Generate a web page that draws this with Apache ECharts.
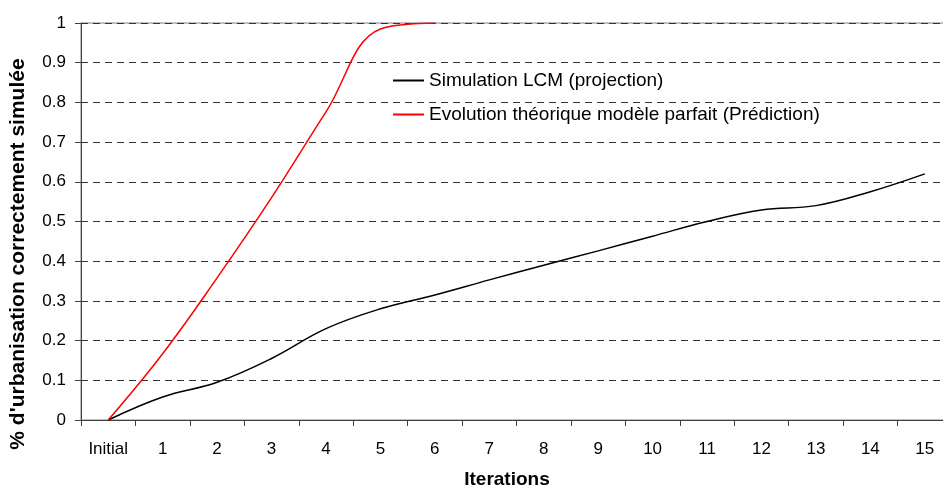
<!DOCTYPE html>
<html>
<head>
<meta charset="utf-8">
<script src="https://cdn.jsdelivr.net/npm/echarts@6/dist/echarts.min.js"></script>
<style>
html,body{margin:0;padding:0;background:#fff;}
#chart{width:943px;height:488px;}
</style>
</head>
<body>
<div id="chart"></div>
<script>
var categories = ['Initial','1','2','3','4','5','6','7','8','9','10','11','12','13','14','15'];
var simulationLCM = [0, 0.058, 0.095, 0.155, 0.23, 0.28, 0.315, 0.353, 0.39, 0.426, 0.463, 0.5, 0.529, 0.54, 0.575, 0.62];
var evolutionTheorique = [0, 0.167, 0.358, 0.56, 0.776, 0.985, 1.0];
var seriesNames = ['Simulation LCM (projection)', 'Evolution théorique modèle parfait (Prédiction)'];
var xAxisTitle = 'Iterations';
var yAxisTitle = "% d'urbanisation correctement simulée";

var font = 'Liberation Sans, Arial, sans-serif';
var chart = echarts.init(document.getElementById('chart'));
chart.setOption({
  animation: false,
  backgroundColor: '#ffffff',
  grid: {left: 81, top: 23, width: 871, height: 397, show: true, borderColor: '#808080', borderWidth: 1,
         backgroundColor: 'transparent', outerBoundsMode: 'none', containLabel: false},
  legend: {
    orient: 'vertical', left: 388, top: 66, itemGap: 15,
    itemWidth: 31, itemHeight: 2, icon: 'rect',
    textStyle: {fontFamily: font, fontSize: 19, color: '#000'},
    data: seriesNames
  },
  graphic: [
    {type: 'text', x: 507, y: 480, style: {text: xAxisTitle, font: 'bold 19px ' + font, fill: '#000', align: 'center', verticalAlign: 'middle'}},
    {type: 'text', x: 18, y: 254, rotation: Math.PI / 2, style: {text: yAxisTitle, font: 'bold 21px ' + font, fill: '#000', align: 'center', verticalAlign: 'middle'}}
  ],
  xAxis: {
    type: 'category', data: categories, boundaryGap: true,
    axisLine: {lineStyle: {color: '#404040', width: 1}},
    axisTick: {show: true, length: 6, lineStyle: {color: '#404040'}},
    axisLabel: {fontFamily: font, fontSize: 17, color: '#000', margin: 21, interval: 0},
    splitLine: {show: false}
  },
  yAxis: {
    type: 'value', min: 0, max: 1, interval: 0.1,
    axisLine: {show: true, lineStyle: {color: '#404040', width: 1}},
    axisTick: {show: true, length: 6, lineStyle: {color: '#404040'}},
    axisLabel: {fontFamily: font, fontSize: 17, color: '#000', margin: 15},
    splitLine: {show: true, lineStyle: {color: '#333', type: [7, 5], width: 1}}
  },
  series: [
    {
      name: seriesNames[0], type: 'line', data: simulationLCM, smooth: 0.4,
      symbol: 'none', lineStyle: {color: '#000', width: 1.5}, itemStyle: {color: '#000'}
    },
    {
      name: seriesNames[1], type: 'line', data: evolutionTheorique, smooth: 0.4,
      symbol: 'none', lineStyle: {color: '#ff0000', width: 1.5}, itemStyle: {color: '#ff0000'}
    }
  ]
});
</script>
</body>
</html>
